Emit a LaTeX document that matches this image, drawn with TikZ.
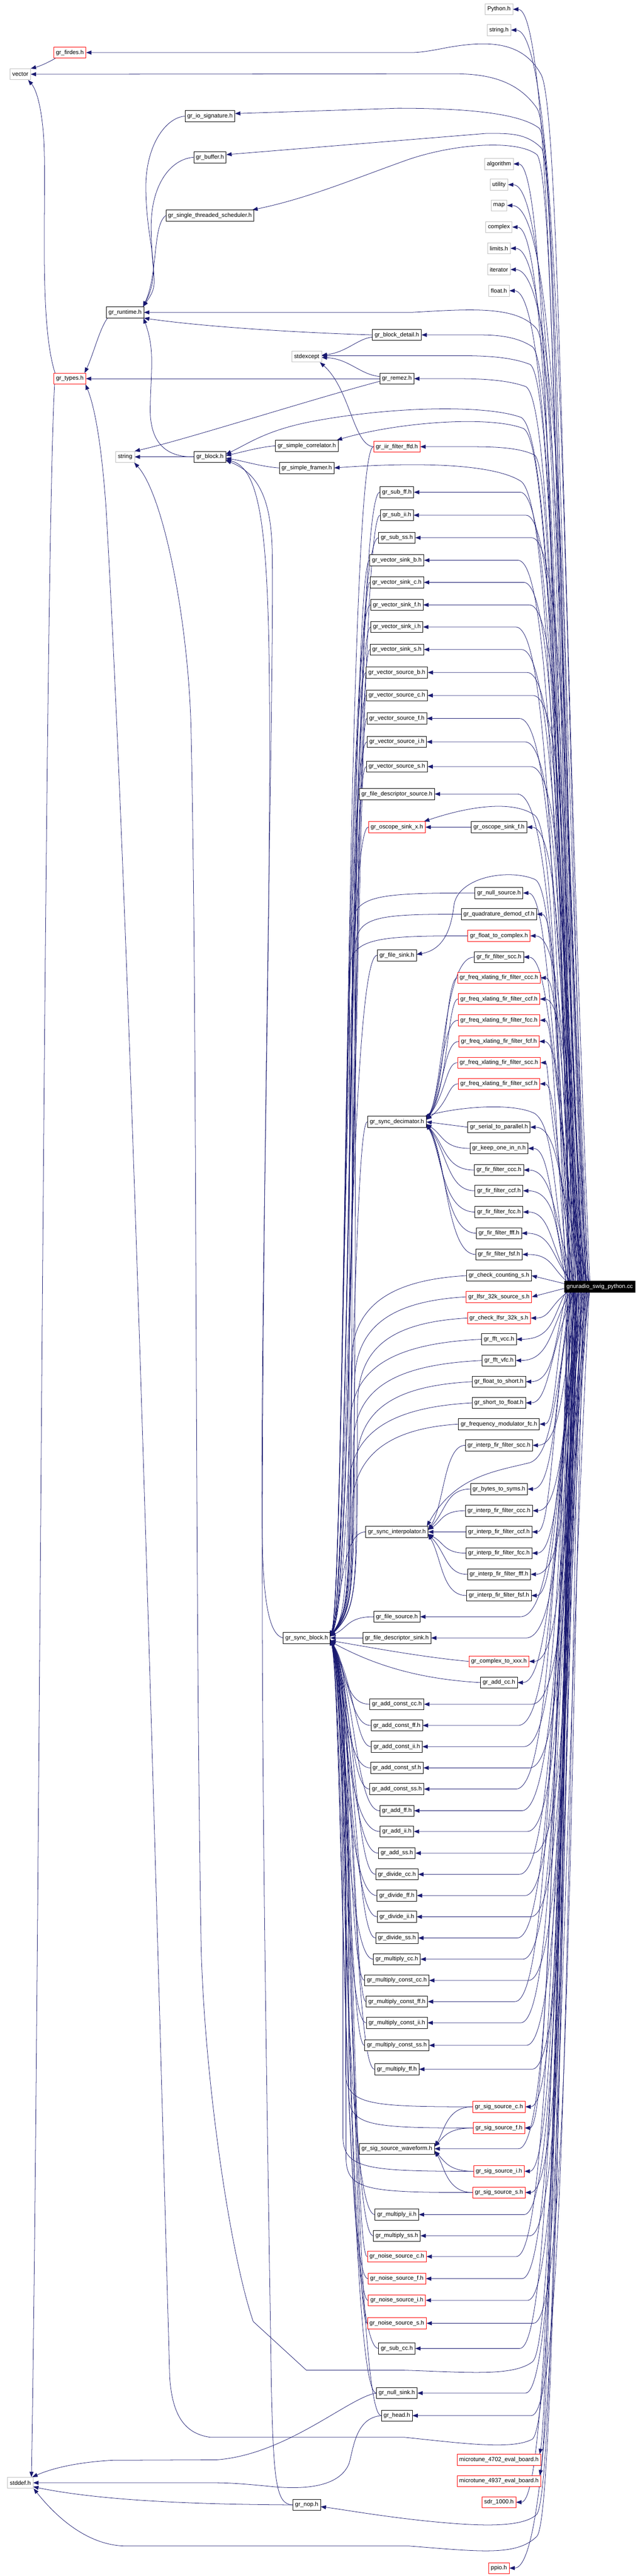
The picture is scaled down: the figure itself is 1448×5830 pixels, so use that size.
\documentclass[tikz,border=0pt]{standalone}
\usepackage{fontspec}
\setmainfont{Liberation Sans}
\usetikzlibrary{arrows.meta,backgrounds}
\definecolor{navy}{HTML}{191970}
\definecolor{extgray}{HTML}{BFBFBF}
\newcommand\nodefont{\fontsize{13.3}{15}\selectfont}
\begin{document}
\begin{tikzpicture}[x=1pt,y=-1pt,
  nd/.style={draw=black,line width=0.9pt,fill=white,rectangle,minimum height=25pt,inner xsep=5pt,inner ysep=0pt,font=\nodefont,text=black},
  ext/.style={nd,draw=extgray},
  trunc/.style={nd,draw=red},
  root/.style={nd,fill=black,text=white},
  dep/.style={draw=navy,line width=0.9pt,-{Triangle[length=12pt,width=9pt]}}]
\useasboundingbox (0,0) rectangle (1448,5830);

% ---------- column G ----------
\node[ext] (py) at (1129,21) {Python.h};
\node[ext] (strh) at (1129,68) {string.h};
\node[ext] (alg) at (1129,371) {algorithm};
\node[ext] (util) at (1129,418) {utility};
\node[ext] (mapn) at (1129,465) {map};
\node[ext] (cplx) at (1129,514) {complex};
\node[ext] (lim) at (1129,562) {limits.h};
\node[ext] (iter) at (1129,610) {iterator};
\node[ext] (flt) at (1129,658) {float.h};
\node[nd] (oscf) at (1129,1872) {gr\_oscope\_sink\_f.h};
\node[nd] (nullsrc) at (1129,2021) {gr\_null\_source.h};
\node[nd] (quad) at (1129,2069) {gr\_quadrature\_demod\_cf.h};
\node[trunc] (f2c) at (1129,2118) {gr\_float\_to\_complex.h};
\node[nd] (firscc) at (1129,2166) {gr\_fir\_filter\_scc.h};
\node[trunc] (fxccc) at (1129,2213) {gr\_freq\_xlating\_fir\_filter\_ccc.h};
\node[trunc] (fxccf) at (1129,2261) {gr\_freq\_xlating\_fir\_filter\_ccf.h};
\node[trunc] (fxfcc) at (1129,2309) {gr\_freq\_xlating\_fir\_filter\_fcc.h};
\node[trunc] (fxfcf) at (1129,2357) {gr\_freq\_xlating\_fir\_filter\_fcf.h};
\node[trunc] (fxscc) at (1129,2405) {gr\_freq\_xlating\_fir\_filter\_scc.h};
\node[trunc] (fxscf) at (1129,2453) {gr\_freq\_xlating\_fir\_filter\_scf.h};
\node[nd] (s2p) at (1129,2551) {gr\_serial\_to\_parallel.h};
\node[nd] (keep) at (1129,2599) {gr\_keep\_one\_in\_n.h};
\node[nd] (firccc) at (1129,2648) {gr\_fir\_filter\_ccc.h};
\node[nd] (firccf) at (1129,2695) {gr\_fir\_filter\_ccf.h};
\node[nd] (firfcc) at (1129,2743) {gr\_fir\_filter\_fcc.h};
\node[nd] (firfff) at (1129,2791) {gr\_fir\_filter\_fff.h};
\node[nd] (firfsf) at (1129,2839) {gr\_fir\_filter\_fsf.h};
\node[nd] (chkcnt) at (1129,2887) {gr\_check\_counting\_s.h};
\node[trunc] (lfsr) at (1129,2935) {gr\_lfsr\_32k\_source\_s.h};
\node[trunc] (chklfsr) at (1129,2983) {gr\_check\_lfsr\_32k\_s.h};
\node[nd] (fftvcc) at (1129,3031) {gr\_fft\_vcc.h};
\node[nd] (fftvfc) at (1129,3079) {gr\_fft\_vfc.h};
\node[nd] (f2s) at (1129,3127) {gr\_float\_to\_short.h};
\node[nd] (s2f) at (1129,3175) {gr\_short\_to\_float.h};
\node[nd] (fmod) at (1129,3223) {gr\_frequency\_modulator\_fc.h};
\node[nd] (iscc) at (1129,3271) {gr\_interp\_fir\_filter\_scc.h};
\node[nd] (b2s) at (1129,3370) {gr\_bytes\_to\_syms.h};
\node[nd] (iccc) at (1129,3419) {gr\_interp\_fir\_filter\_ccc.h};
\node[nd] (iccf) at (1129,3467) {gr\_interp\_fir\_filter\_ccf.h};
\node[nd] (ifcc) at (1129,3515) {gr\_interp\_fir\_filter\_fcc.h};
\node[nd] (ifff) at (1129,3563) {gr\_interp\_fir\_filter\_fff.h};
\node[nd] (ifsf) at (1129,3611) {gr\_interp\_fir\_filter\_fsf.h};
\node[trunc] (c2x) at (1129,3760) {gr\_complex\_to\_xxx.h};
\node[nd] (addcc) at (1129,3808) {gr\_add\_cc.h};
\node[trunc] (sigc) at (1129,4768) {gr\_sig\_source\_c.h};
\node[trunc] (sigf) at (1129,4816) {gr\_sig\_source\_f.h};
\node[trunc] (sigi) at (1129,4914) {gr\_sig\_source\_i.h};
\node[trunc] (sigs) at (1129,4962) {gr\_sig\_source\_s.h};
\node[trunc] (mta) at (1129,5567) {microtune\_4702\_eval\_board.h};
\node[trunc] (mtb) at (1129,5615) {microtune\_4937\_eval\_board.h};
\node[trunc] (sdr) at (1129,5663) {sdr\_1000.h};
\node[trunc] (ppio) at (1129,5812) {ppio.h};

% ---------- column F ----------
\node[nd] (bdetail) at (898,758) {gr\_block\_detail.h};
\node[nd] (remez) at (898,857) {gr\_remez.h};
\node[trunc] (iir) at (898,1011) {gr\_iir\_filter\_ffd.h};
\node[nd] (subff) at (898,1114) {gr\_sub\_ff.h};
\node[nd] (subii) at (898,1166) {gr\_sub\_ii.h};
\node[nd] (subss) at (898,1217) {gr\_sub\_ss.h};
\node[nd] (vsb) at (898,1268) {gr\_vector\_sink\_b.h};
\node[nd] (vsc) at (898,1318) {gr\_vector\_sink\_c.h};
\node[nd] (vsf) at (898,1369) {gr\_vector\_sink\_f.h};
\node[nd] (vsi) at (898,1419) {gr\_vector\_sink\_i.h};
\node[nd] (vss) at (898,1470) {gr\_vector\_sink\_s.h};
\node[nd] (vob) at (898,1522) {gr\_vector\_source\_b.h};
\node[nd] (voc) at (898,1574) {gr\_vector\_source\_c.h};
\node[nd] (vof) at (898,1626) {gr\_vector\_source\_f.h};
\node[nd] (voi) at (898,1679) {gr\_vector\_source\_i.h};
\node[nd] (vos) at (898,1735) {gr\_vector\_source\_s.h};
\node[nd] (fdsrc) at (898,1797) {gr\_file\_descriptor\_source.h};
\node[trunc] (oscx) at (898,1872) {gr\_oscope\_sink\_x.h};
\node[nd] (fsink) at (898,2162) {gr\_file\_sink.h};
\node[nd] (dec) at (898,2539) {gr\_sync\_decimator.h};
\node[nd] (interp) at (898,3467) {gr\_sync\_interpolator.h};
\node[nd] (fsrc) at (898,3659) {gr\_file\_source.h};
\node[nd] (fdsink) at (898,3707) {gr\_file\_descriptor\_sink.h};
\node[nd] (acc) at (898,3857) {gr\_add\_const\_cc.h};
\node[nd] (aff) at (898,3905) {gr\_add\_const\_ff.h};
\node[nd] (aii) at (898,3953) {gr\_add\_const\_ii.h};
\node[nd] (asf) at (898,4001) {gr\_add\_const\_sf.h};
\node[nd] (ass) at (898,4049) {gr\_add\_const\_ss.h};
\node[nd] (addff) at (898,4098) {gr\_add\_ff.h};
\node[nd] (addii) at (898,4145) {gr\_add\_ii.h};
\node[nd] (addss) at (898,4194) {gr\_add\_ss.h};
\node[nd] (divcc) at (898,4242) {gr\_divide\_cc.h};
\node[nd] (divff) at (898,4290) {gr\_divide\_ff.h};
\node[nd] (divii) at (898,4338) {gr\_divide\_ii.h};
\node[nd] (divss) at (898,4386) {gr\_divide\_ss.h};
\node[nd] (mulcc) at (898,4434) {gr\_multiply\_cc.h};
\node[nd] (mccc) at (898,4482) {gr\_multiply\_const\_cc.h};
\node[nd] (mcff) at (898,4530) {gr\_multiply\_const\_ff.h};
\node[nd] (mcii) at (898,4578) {gr\_multiply\_const\_ii.h};
\node[nd] (mcss) at (898,4629) {gr\_multiply\_const\_ss.h};
\node[nd] (mulff) at (898,4683) {gr\_multiply\_ff.h};
\node[nd] (wave) at (898,4863) {gr\_sig\_source\_waveform.h};
\node[nd] (mulii) at (898,5012) {gr\_multiply\_ii.h};
\node[nd] (mulss) at (898,5060) {gr\_multiply\_ss.h};
\node[trunc] (nsc) at (898,5107) {gr\_noise\_source\_c.h};
\node[trunc] (nsf) at (898,5157) {gr\_noise\_source\_f.h};
\node[trunc] (nsi) at (898,5206) {gr\_noise\_source\_i.h};
\node[trunc] (nss) at (898,5258) {gr\_noise\_source\_s.h};
\node[nd] (subcc) at (898,5315) {gr\_sub\_cc.h};
\node[nd] (nullsink) at (898,5416) {gr\_null\_sink.h};
\node[nd] (head) at (898,5467) {gr\_head.h};

% ---------- columns E .. A ----------
\node[ext] (stdexc) at (694,807) {stdexcept};
\node[nd] (corr) at (694,1009) {gr\_simple\_correlator.h};
\node[nd] (framer) at (694,1059) {gr\_simple\_framer.h};
\node[nd] (sync) at (694,3707) {gr\_sync\_block.h};
\node[nd] (nop) at (694,5669) {gr\_nop.h};
\node[nd] (iosig) at (475,263) {gr\_io\_signature.h};
\node[nd] (buffer) at (475,356) {gr\_buffer.h};
\node[nd] (sched) at (475,488) {gr\_single\_threaded\_scheduler.h};
\node[nd] (block) at (475,1034) {gr\_block.h};
\node[nd] (runtime) at (283,707) {gr\_runtime.h};
\node[ext] (stringn) at (283,1034) {string};
\node[trunc] (firdes) at (158,119) {gr\_firdes.h};
\node[trunc] (types) at (158,857) {gr\_types.h};
\node[ext] (vector) at (46,168) {vector};
\node[ext] (stddef) at (46,5619) {stddef.h};
\node[root] (swig) at (1357,2912) {gnuradio\_swig\_python.cc};

\begin{pgfonlayer}{background}
\fill[white] (0,0) rectangle (1448,5830);

% ----- main -> column G above -----
\foreach \n/\y [count=\i] in {py/21,strh/68,alg/371,util/418,mapn/465,cplx/514,lim/562,iter/610,flt/658,oscf/1872,nullsrc/2021,quad/2069,f2c/2118,firscc/2166,fxccc/2213,fxccf/2261,fxfcc/2309,fxfcf/2357,fxscc/2405,fxscf/2453,s2p/2551,keep/2599,firccc/2648,firccf/2695,firfcc/2743,firfff/2791,firfsf/2839}{
  \pgfmathsetmacro\dd{min(1,(2900-\y)/450)}
  \pgfmathsetmacro\cc{1242+mod(\i*17,46)*\dd}
  \pgfmathsetmacro\ss{3+mod(\i*23,55)*\dd}
  \draw[dep] ([xshift=\ss pt]swig.north west) .. controls (\cc,{(\y+2900)/2}) and (\cc,\y) .. (\n.east);
}
% ----- main -> column G below -----
\foreach \n/\y [count=\i] in {chklfsr/2983,fftvcc/3031,fftvfc/3079,f2s/3127,s2f/3175,fmod/3223,iscc/3271,b2s/3370,iccc/3419,iccf/3467,ifcc/3515,ifff/3563,ifsf/3611,c2x/3760,addcc/3808,sigc/4768,sigf/4816,sigi/4914,sigs/4962,sdr/5663,ppio/5812}{
  \pgfmathsetmacro\dd{min(1,(\y-2925)/450)}
  \pgfmathsetmacro\cc{1242+mod(\i*19,46)*\dd}
  \pgfmathsetmacro\ss{3+mod(\i*29,55)*\dd}
  \draw[dep] ([xshift=\ss pt]swig.south west) .. controls (\cc,{(\y+2925)/2}) and (\cc,\y) .. (\n.east);
}
% ----- main -> column F above -----
\foreach \n/\y [count=\i] in {subff/1114,subii/1166,subss/1217,vsb/1268,vsc/1318,vsf/1369,vsi/1419,vss/1470,vob/1522,voc/1574,vof/1626,voi/1679,vos/1735,fdsrc/1797}{
  \pgfmathsetmacro\cc{1244+mod(\i*13,44)}
  \pgfmathsetmacro\ss{8+mod(\i*31,50)}
  \draw[dep] ([xshift=\ss pt]swig.north west) .. controls (\cc,{(\y+2900)/2}) and (\cc,\y) .. ({\cc-80},\y) -- (\n.east);
}
% ----- main -> column F below -----
\foreach \n/\y [count=\i] in {fsrc/3659,fdsink/3707,acc/3857,aff/3905,aii/3953,asf/4001,ass/4049,addff/4098,addii/4145,addss/4194,divcc/4242,divff/4290,divii/4338,divss/4386,mulcc/4434,mccc/4482,mcff/4530,mcii/4578,mcss/4629,mulff/4683,wave/4863,mulii/5012,mulss/5060,nsc/5107,nsf/5157,nsi/5206,nss/5258,subcc/5315,nullsink/5416,head/5467}{
  \pgfmathsetmacro\cc{1244+mod(\i*13,44)}
  \pgfmathsetmacro\ss{8+mod(\i*31,50)}
  \draw[dep] ([xshift=\ss pt]swig.south west) .. controls (\cc,{(\y+2925)/2}) and (\cc,\y) .. ({\cc-80},\y) -- (\n.east);
}
% ----- main -> special targets -----
\draw[dep] ([yshift=7pt]swig.west) -- (chkcnt.east);
\draw[dep] ([yshift=-4pt]swig.west) -- (lfsr.east);
\draw[dep] ([xshift=28pt]swig.south west) .. controls (1258,4300) and (1240,5450) .. ([xshift=-3pt]mta.north east);
\draw[dep] ([xshift=33pt]swig.south west) .. controls (1258,4400) and (1242,5500) .. ([xshift=-3pt]mtb.north east);
\draw[dep] ([xshift=20pt]swig.south west) .. controls (1256,3150) and (1250,3290) .. (1200,3310) .. controls (1120,3330) and (1030,3340) .. ([xshift=-3pt]interp.north east);
\draw[dep] ([xshift=15pt]swig.north west) .. controls (1258,2400) and (1254,1880) .. (1210,1845) .. controls (1160,1810) and (1060,1825) .. ([xshift=-3pt]oscx.north east);
\draw[dep] ([xshift=12pt]swig.north west) .. controls (1258,2450) and (1256,2010) .. (1210,1990) .. controls (1150,1965) and (1035,1985) .. (1027,2050) .. controls (1020,2110) and (1000,2150) .. ([yshift=2pt]fsink.east);
\draw[dep] ([xshift=8pt]swig.north west) .. controls (1252,2700) and (1254,2550) .. (1210,2520) .. controls (1160,2495) and (1040,2505) .. ([xshift=-3pt]dec.north east);
\draw[dep] ([xshift=55pt]swig.north west) .. controls (1268,1500) and (1262,320) .. (1215,245) .. controls (1170,180) and (1100,167) .. (1027,167) -- (vector.east);
\draw[dep] ([xshift=58pt]swig.north west) .. controls (1272,1400) and (1268,260) .. (1225,170) .. controls (1185,95) and (1110,90) .. (1010,108) .. controls (975,115) and (950,119) .. (930,119) -- (firdes.east);
\draw[dep] ([xshift=50pt]swig.north west) .. controls (1262,1500) and (1258,330) .. (1220,290) .. controls (1180,260) and (1080,245) .. (900,245) -- ([yshift=6pt]iosig.east);
\draw[dep] ([xshift=48pt]swig.north west) .. controls (1262,1500) and (1258,380) .. (1225,335) .. controls (1190,300) and (1150,302) .. (1100,302) -- ([yshift=6pt]buffer.east);
\draw[dep] ([xshift=46pt]swig.north west) .. controls (1260,1500) and (1256,400) .. (1215,350) .. controls (1170,315) and (1030,325) .. (924,361) .. controls (800,405) and (700,448) .. ([xshift=-4pt]sched.north east);
\draw[dep] ([xshift=44pt]swig.north west) .. controls (1262,1700) and (1258,810) .. (1215,745) .. controls (1170,690) and (1060,700) .. (930,707) -- (runtime.east);
\draw[dep] ([xshift=42pt]swig.north west) .. controls (1258,1700) and (1255,830) .. (1205,785) .. controls (1160,755) and (1100,758) .. (1060,758) -- (bdetail.east);
\draw[dep] ([xshift=40pt]swig.north west) .. controls (1256,1800) and (1254,870) .. (1200,825) .. controls (1150,805) and (1080,805) .. (1030,805) -- ([yshift=2pt]stdexc.east);
\draw[dep] ([xshift=38pt]swig.north west) .. controls (1255,1800) and (1252,915) .. (1190,875) .. controls (1140,857) and (1070,857) .. (1020,857) -- (remez.east);
\draw[dep] ([xshift=36pt]swig.north west) .. controls (1256,2000) and (1252,1010) .. (1185,970) .. controls (1110,940) and (900,955) .. ([xshift=-3pt]corr.north east);
\draw[dep] ([xshift=35pt]swig.north west) .. controls (1256,2000) and (1254,1070) .. (1210,1030) .. controls (1170,1010) and (1100,1011) .. (1050,1011) -- (iir.east);
\draw[dep] ([xshift=32pt]swig.north west) .. controls (1256,2050) and (1250,1150) .. (1180,1090) .. controls (1120,1050) and (950,1045) .. (framer.east);
\draw[dep] ([xshift=34pt]swig.north west) .. controls (1258,2000) and (1256,1000) .. (1180,945) .. controls (1100,915) and (880,920) .. (700,955) .. controls (600,975) and (560,1005) .. ([yshift=6pt]block.east);
\draw[dep] ([xshift=40pt]swig.south west) .. controls (1262,4300) and (1258,5690) .. (1215,5740) .. controls (1170,5785) and (1090,5775) .. (925,5762) -- (282,5762) .. controls (200,5760) and (130,5700) .. ([xshift=1pt]stddef.south east);
\draw[dep] ([xshift=30pt]swig.south west) .. controls (1260,4300) and (1258,5620) .. (1215,5690) .. controls (1180,5725) and (1060,5715) .. (960,5705) .. controls (850,5693) and (780,5680) .. ([yshift=-4pt]nop.east);
\draw[dep] ([xshift=22pt]swig.south west) .. controls (1262,4200) and (1258,5470) .. (1205,5520) .. controls (1160,5545) and (1050,5530) .. (915,5516) -- (476,5516) .. controls (420,5508) and (390,5470) .. (384,5380) .. controls (362,4600) and (300,2200) .. (240,1150) .. controls (228,980) and (210,910) .. ([xshift=-1pt]types.south east);
\draw[dep] ([xshift=25pt]swig.south west) .. controls (1262,4100) and (1258,5300) .. (1205,5345) .. controls (1160,5380) and (1050,5368) .. (906,5364) -- (693,5364) -- (573,5254) .. controls (520,5100) and (462,4700) .. (455,4400) .. controls (440,3500) and (447,2300) .. (432,1640) .. controls (425,1400) and (370,1120) .. ([xshift=-1pt]stringn.south east);

% ----- column F -> gr_sync_block.h -----
\foreach \n/\y [count=\i] in {iir/1011,subff/1114,subii/1166,subss/1217,vsb/1268,vsc/1318,vsf/1369,vsi/1419,vss/1470,vob/1522,voc/1574,vof/1626,voi/1679,vos/1735,fdsrc/1797,oscx/1872,fsink/2162,dec/2539,interp/3467,fsrc/3659}{
  \pgfmathsetmacro\xv{772+mod(\i*11,34)}
  \pgfmathsetmacro\pp{3707-min(110,(3707-\y)/2)}
  \draw[dep] (\n.west) .. controls (\xv,\y) and (\xv,\pp) .. ([yshift=4pt]sync.east);
}
\foreach \n/\y [count=\i] in {acc/3857,aff/3905,aii/3953,asf/4001,ass/4049,addff/4098,addii/4145,addss/4194,divcc/4242,divff/4290,divii/4338,divss/4386,mulcc/4434,mccc/4482,mcff/4530,mcii/4578,mcss/4629,mulff/4683,mulii/5012,mulss/5060,nsc/5107,nsf/5157,nsi/5206,nss/5258,subcc/5315,nullsink/5416,head/5467}{
  \pgfmathsetmacro\xv{772+mod(\i*11,34)}
  \pgfmathsetmacro\pp{3707+min(110,(\y-3707)/2)}
  \draw[dep] (\n.west) .. controls (\xv,\y) and (\xv,\pp) .. ([yshift=-4pt]sync.east);
}
\draw[dep] (fdsink) -- (sync);
% ----- column G -> gr_sync_block.h -----
\foreach \n/\y [count=\i] in {nullsrc/2021,quad/2069,f2c/2118}{
  \pgfmathsetmacro\xv{790+mod(\i*7,20)}
  \draw[dep] (\n.west) .. controls (850,\y) and (\xv,{\y+5}) .. (\xv,{\y+80}) .. controls (\xv,3600) and (\xv,3640) .. ([yshift=4pt]sync.east);
}
\foreach \n/\y [count=\i] in {chkcnt/2887,lfsr/2935,chklfsr/2983,fftvcc/3031,fftvfc/3079,f2s/3127,s2f/3175,fmod/3223}{
  \pgfmathsetmacro\xv{788+mod(\i*7,24)}
  \draw[dep] (\n.west) .. controls (880,{\y+10}) and (\xv,{\y+70}) .. (\xv,{\y+200}) .. controls (\xv,3600) and (\xv,3640) .. ([yshift=4pt]sync.east);
}
\foreach \n/\y [count=\i] in {sigc/4768,sigf/4816,sigi/4914,sigs/4962}{
  \pgfmathsetmacro\xv{775+mod(\i*7,20)}
  \draw[dep] (\n.west) .. controls (830,\y) and (\xv,{\y-5}) .. (\xv,{\y-80}) .. controls (\xv,3820) and (\xv,3780) .. ([yshift=-4pt]sync.east);
}
\draw[dep] (c2x.west) .. controls (950,3750) and (820,3725) .. ([yshift=-6pt]sync.east);
\draw[dep] (addcc.west) .. controls (950,3800) and (850,3770) .. ([yshift=-8pt]sync.east);
% ----- column G -> gr_sync_decimator.h -----
\foreach \n/\y [count=\i] in {firscc/2166,fxccc/2213,fxccf/2261,fxfcc/2309,fxfcf/2357,fxscc/2405,fxscf/2453}{
  \pgfmathsetmacro\xv{998+mod(\i*5,18)}
  \pgfmathsetmacro\pp{2539-min(70,(2539-\y)/2)}
  \draw[dep] (\n.west) .. controls (\xv,\y) and (\xv,\pp) .. ([yshift=5pt]dec.east);
}
\foreach \n/\y [count=\i] in {keep/2599,firccc/2648,firccf/2695,firfcc/2743,firfff/2791,firfsf/2839}{
  \pgfmathsetmacro\xv{998+mod(\i*5,18)}
  \pgfmathsetmacro\pp{2539+min(70,(\y-2539)/2)}
  \draw[dep] (\n.west) .. controls (\xv,\y) and (\xv,\pp) .. ([yshift=-5pt]dec.east);
}
\draw[dep] (s2p.west) -- (dec.east);
% ----- column G -> gr_sync_interpolator.h -----
\foreach \n/\y [count=\i] in {iscc/3271,b2s/3370,iccc/3419}{
  \pgfmathsetmacro\xv{1000+mod(\i*5,15)}
  \pgfmathsetmacro\pp{3467-min(60,(3467-\y)/2)}
  \draw[dep] (\n.west) .. controls (\xv,\y) and (\xv,\pp) .. ([yshift=5pt]interp.east);
}
\draw[dep] (iccf) -- (interp);
\foreach \n/\y [count=\i] in {ifcc/3515,ifff/3563,ifsf/3611}{
  \pgfmathsetmacro\xv{1000+mod(\i*5,15)}
  \pgfmathsetmacro\pp{3467+min(60,(\y-3467)/2)}
  \draw[dep] (\n.west) .. controls (\xv,\y) and (\xv,\pp) .. ([yshift=-5pt]interp.east);
}
% ----- sig sources -> waveform -----
\draw[dep] (sigc.west) .. controls (1010,4768) and (1005,4825) .. ([yshift=6pt]wave.east);
\draw[dep] (sigf.west) .. controls (1015,4816) and (1005,4835) .. ([yshift=5pt]wave.east);
\draw[dep] (sigi.west) .. controls (1015,4914) and (1005,4890) .. ([yshift=-5pt]wave.east);
\draw[dep] (sigs.west) .. controls (1010,4962) and (1005,4900) .. ([yshift=-6pt]wave.east);
\draw[dep] (oscf) -- (oscx);

% ----- left part -----
\draw[dep] ([xshift=4pt]firdes.south west) .. controls (112,140) and (90,150) .. (vector.north east);
\draw[dep] ([xshift=3pt]types.north west) .. controls (85,720) and (108,420) .. (98,300) .. controls (92,230) and (80,200) .. ([xshift=-6pt]vector.south east);
\draw[dep] ([xshift=2pt]types.south west) .. controls (100,1300) and (90,4500) .. ([xshift=-4pt]stddef.north east);
\draw[dep] ([xshift=3pt]runtime.south west) .. controls (225,745) and (212,800) .. ([xshift=-3pt]types.north east);
\draw[dep] (iosig.west) .. controls (375,266) and (328,330) .. (330,430) .. controls (332,560) and (368,610) .. ([xshift=-2pt]runtime.north east);
\draw[dep] (buffer.west) .. controls (385,360) and (340,420) .. (342,520) .. controls (344,640) and (362,640) .. ([xshift=-2pt]runtime.north east);
\draw[dep] (sched.west) .. controls (345,510) and (358,620) .. ([xshift=-2pt]runtime.north east);
\draw[dep] (bdetail.west) .. controls (650,752) and (450,738) .. (runtime.south east);
\draw[dep] (block.west) .. controls (365,1035) and (338,990) .. (340,920) .. controls (342,830) and (350,790) .. ([xshift=-1pt]runtime.south east);
\draw[dep] (block) -- (stringn);
\draw[dep] (remez.west) -- (types.east);
\draw[dep] ([yshift=-6pt]remez.west) .. controls (700,905) and (420,995) .. (stringn.north east);
\draw[dep] ([yshift=5pt]remez.west) .. controls (815,848) and (790,812) .. ([yshift=-2pt]stdexc.east);
\draw[dep] ([yshift=-5pt]bdetail.west) .. controls (810,766) and (785,797) .. ([yshift=3pt]stdexc.east);
\draw[dep] (iir.west) .. controls (800,1008) and (792,880) .. ([xshift=-4pt]stdexc.south east);
\draw[dep] (corr.west) .. controls (585,1012) and (545,1024) .. ([yshift=3pt]block.east);
\draw[dep] (framer.west) .. controls (590,1056) and (550,1043) .. ([yshift=-3pt]block.east);
\draw[dep] (sync.west) .. controls (612,3700) and (594,3640) .. (593,3450) .. controls (590,2900) and (612,2200) .. (610,1600) .. controls (608,1200) and (590,1060) .. ([yshift=-6pt]block.east);
\draw[dep] (nop.west) .. controls (625,5668) and (619,5620) .. (614,5400) .. controls (605,4800) and (590,4000) .. (594,3300) .. controls (598,2400) and (620,1500) .. (616,1250) .. controls (614,1150) and (595,1075) .. ([yshift=-8pt]block.east);
\draw[dep] (nullsink.west) .. controls (790,5425) and (650,5555) .. (490,5567) -- (255,5568) .. controls (180,5572) and (120,5585) .. ([xshift=-2pt]stddef.north east);
\draw[dep] (head.west) .. controls (805,5472) and (800,5540) .. (790,5575) .. controls (770,5625) and (700,5635) .. (620,5628) .. controls (560,5622) and (520,5619) .. (490,5619) -- (stddef.east);
\draw[dep] (nop.west) .. controls (450,5668) and (230,5660) .. ([yshift=4pt]stddef.south east);
\end{pgfonlayer}
\end{tikzpicture}
\end{document}
